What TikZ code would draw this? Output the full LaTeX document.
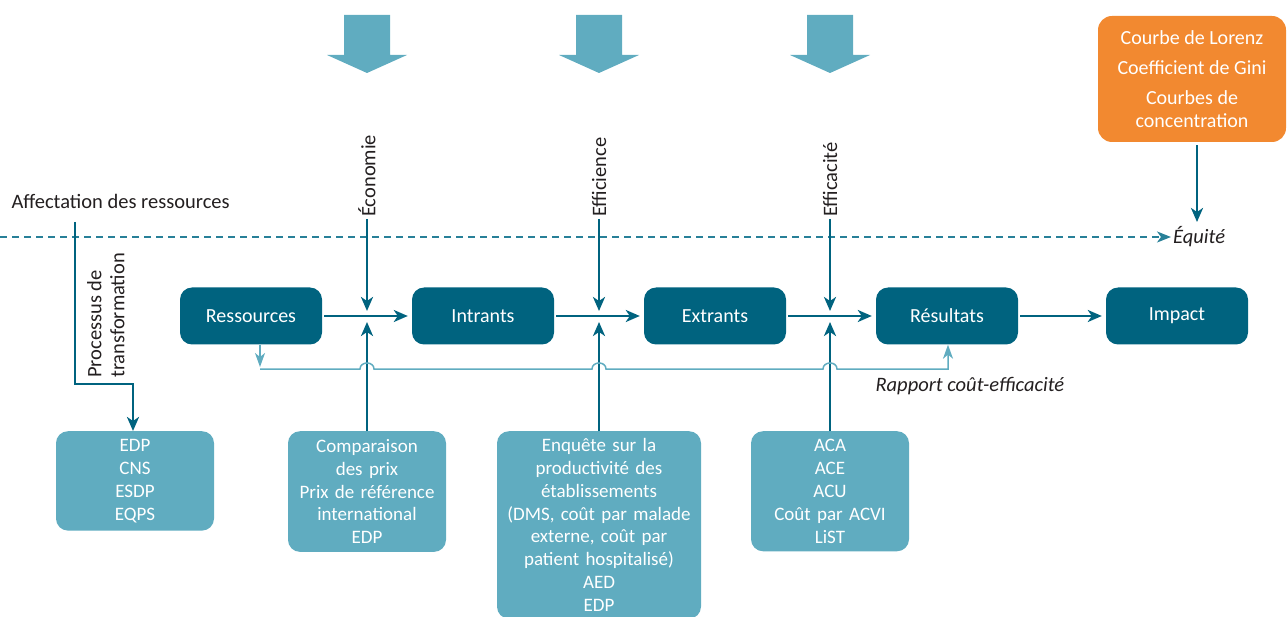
\documentclass[tikz,border=0pt]{standalone}
\usepackage{fontspec}
\setmainfont{Carlito}
\usetikzlibrary{arrows.meta}
\definecolor{dteal}{RGB}{0,99,127}
\definecolor{lteal}{RGB}{96,172,192}
\definecolor{mteal}{RGB}{40,128,152}
\definecolor{orng}{RGB}{242,137,48}
\definecolor{txt}{RGB}{35,31,32}

\begin{document}
\begin{tikzpicture}[x=1pt,y=-1pt,
      >={Stealth[length=14pt,width=12pt,inset=4pt]},
      etape/.style={fill=dteal,rounded corners=12pt,text=white,minimum width=142pt,
        minimum height=57pt,font=\fontsize{20}{24}\selectfont},
      outil/.style={fill=lteal,rounded corners=12pt,text=white,align=center,anchor=north,
        inner xsep=4pt,inner ysep=8pt,font=\fontsize{19}{22.9}\selectfont},
      lien/.style={draw=dteal,line width=2.7pt},
      retour/.style={draw=lteal,line width=1.5pt,>={Stealth[length=14pt,width=10pt,inset=4pt]}},
      etiq/.style={text=txt,font=\fontsize{20.5}{24}\selectfont}]
   \useasboundingbox (0,0) rectangle (1287,617);
   % grosses fleches du haut
   \foreach \x in {367,599,830}
      \fill[lteal] ({\x-23},15) -- ({\x+23},15) -- ({\x+23},55) -- ({\x+40},55)
         -- (\x,73) -- ({\x-40},55) -- ({\x-23},55) -- cycle;
   % chaine de resultats
   \node[etape] (ress) at (251,316) {Ressources};
   \node[etape] (intr) at (483,316) {Intrants};
   \node[etape] (extr) at (715,316) {Extrants};
   \node[etape] (resu) at (947,316) {Résultats};
   \node[etape] (imp) at (1177,316) {Impact};
   \draw[lien,->,shorten <=2pt,shorten >=4pt] (ress) -- (intr);
   \draw[lien,->,shorten <=2pt,shorten >=4pt] (intr) -- (extr);
   \draw[lien,->,shorten <=2pt,shorten >=4pt] (extr) -- (resu);
   \draw[lien,->,shorten <=2pt,shorten >=4pt] (resu) -- (imp);
   % equite
   \node[etiq,anchor=west,inner xsep=2pt,font=\fontsize{20.5}{24}\selectfont\itshape] (equi) at (1171,237) {Équité};
   \coordinate (d0) at (0,237);
   \draw[draw=mteal,line width=1.5pt,dash pattern=on 7pt off 5pt,
      >={Stealth[length=14pt,width=11pt,inset=4pt]},->] (d0) -- (equi.west);
   \node[fill=orng,rounded corners=14pt,text=white,minimum width=188pt,minimum height=126pt,
      align=center,font=\fontsize{20}{23}\selectfont] (gini) at (1192,79)
      {Courbe de Lorenz\\[7pt]Coefficient de Gini\\[7pt]Courbes de\\concentration};
   \coordinate (g1) at (1197,222);
   \draw[lien,->] (gini.south -| g1) ++(0,3) -- (g1);
   % criteres
   \node[etiq,rotate=90,anchor=west,inner sep=2pt] (econ) at (367,219) {Économie};
   \node[etiq,rotate=90,anchor=west,inner sep=2pt] (effi) at (599,219) {Efficience};
   \node[etiq,rotate=90,anchor=west,inner sep=2pt] (effa) at (830,219) {Efficacité};
   \coordinate (j1h) at (367,311);
   \coordinate (j2h) at (599,311);
   \coordinate (j3h) at (830,311);
   \coordinate (j1b) at (367,322);
   \coordinate (j2b) at (599,322);
   \coordinate (j3b) at (830,322);
   \draw[lien,->] (econ.west) -- (j1h);
   \draw[lien,->] (effi.west) -- (j2h);
   \draw[lien,->] (effa.west) -- (j3h);
   % outils
   \node[outil,text width=150pt] (out1) at (135,431) {EDP\\CNS\\ESDP\\EQPS};
   \node[outil,text width=150pt] (out2) at (367,431)
      {Comparaison\\des prix\\Prix de référence\\international\\EDP};
   \node[outil,text width=196pt,inner ysep=7pt] (out3) at (599,431)
      {Enquête sur la\\productivité des\\établissements\\(DMS, coût par malade\\externe, coût par\\patient hospitalisé)\\AED\\EDP};
   \node[outil,text width=150pt] (out4) at (830,431)
      {ACA\\ACE\\ACU\\Coût par ACVI\\LiST};
   \draw[lien,->] (out2.north) -- (j1b);
   \draw[lien,->] (out3.north) -- (j2b);
   \draw[lien,->] (out4.north) -- (j3b);
   % affectation
   \node[etiq,anchor=west] (affe) at (8,201) {Affectation des ressources};
   \coordinate (a0) at (75,222);
   \draw[lien,->] (a0) |- (133,384) -- (out1.north -| 133,0);
   \node[etiq,rotate=90,align=left,anchor=north west,inner sep=0pt,
      font=\fontsize{20.5}{23}\selectfont] (proc) at (87,378) {Processus de\\transformation};
   % rapport cout-efficacite
   \coordinate (r0) at (260,369);
   \coordinate (r1) at (948,369);
   \draw[retour,->] (ress.south -| r0) -- ([yshift=2pt]r0);
   \draw[retour,->] (r0) -- (360,369) .. controls (360,361) and (374,361) .. (374,369)
      -- (592,369) .. controls (592,361) and (606,361) .. (606,369)
      -- (823,369) .. controls (823,361) and (837,361) .. (837,369)
      -- (r1) -- (resu.south -| r1);
   \node[etiq,anchor=west,font=\fontsize{20.5}{24}\selectfont\itshape] (rapp) at (872,386) {Rapport coût-efficacité};
\end{tikzpicture}
\end{document}
